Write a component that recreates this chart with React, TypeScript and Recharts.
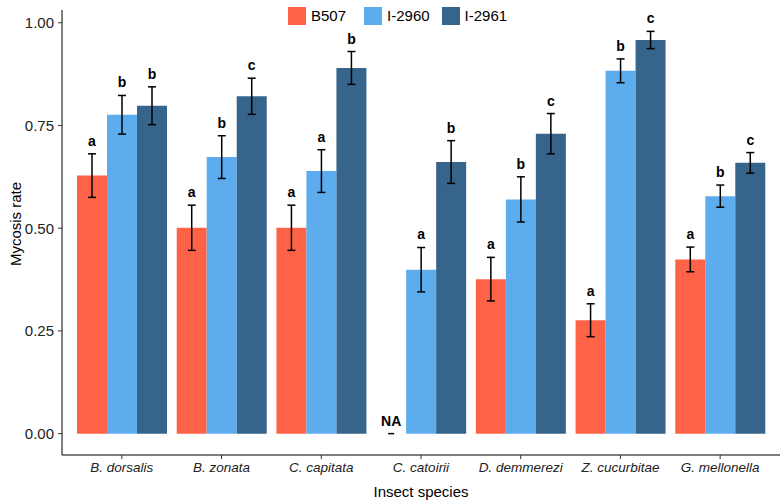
import React from 'react';
import { BarChart, Bar, XAxis, YAxis, ErrorBar, LabelList, Label } from 'recharts';

const species = ['B. dorsalis', 'B. zonata', 'C. capitata', 'C. catoirii', 'D. demmerezi', 'Z. cucurbitae', 'G. mellonella'];
const seriesNames = ['B507', 'I-2960', 'I-2961'];
const seriesColors = ['#FF6347', '#5CACEE', '#36648B'];

// null = NA (not tested)
const b507Mean: (number | null)[] = [0.628, 0.501, 0.501, null, 0.376, 0.276, 0.424];
const b507Se: (number | null)[] = [0.053, 0.055, 0.055, null, 0.053, 0.040, 0.030];
const b507Letters = ['a', 'a', 'a', 'NA', 'a', 'a', 'a'];

const i2960Mean = [0.776, 0.673, 0.639, 0.399, 0.570, 0.883, 0.578];
const i2960Se = [0.047, 0.052, 0.052, 0.054, 0.055, 0.029, 0.027];
const i2960Letters = ['b', 'b', 'a', 'a', 'b', 'b', 'b'];

const i2961Mean = [0.798, 0.821, 0.890, 0.661, 0.730, 0.958, 0.659];
const i2961Se = [0.046, 0.044, 0.040, 0.052, 0.049, 0.021, 0.025];
const i2961Letters = ['b', 'c', 'b', 'b', 'c', 'c', 'c'];

const yTicks = [0, 0.25, 0.5, 0.75, 1];

const data = species.map((s, i) => ({
  species: s,
  b507: b507Mean[i],
  b507Err: b507Se[i],
  i2960: i2960Mean[i],
  i2960Err: i2960Se[i],
  i2961: i2961Mean[i],
  i2961Err: i2961Se[i],
}));

const FONT = '"Liberation Sans", Arial, Helvetica, sans-serif';

const letterText = (cx: number, baseY: number, txt: string, key?: string) => (
  <text
    key={key}
    x={cx}
    y={baseY}
    textAnchor="middle"
    fontFamily={FONT}
    fontWeight="bold"
    fontSize={14}
    fill="#000"
  >
    {txt}
  </text>
);

const makeLetter =
  (means: (number | null)[], ses: (number | null)[], letters: string[], drawNaLeft: boolean) =>
  (props: any) => {
    const { x, y, width, height, value } = props;
    const idx = species.indexOf(value);
    if (idx < 0) return null;
    const m = means[idx];
    const se = ses[idx];
    if (m == null || se == null) return null;
    const ppu = m > 0 ? Math.abs(height) / m : 0;
    const errTop = y - se * ppu;
    const items = [letterText(x + width / 2, errTop - 8, letters[idx], 'l')];
    if (drawNaLeft && b507Mean[idx] == null) {
      // NA marker for the missing B507 bar sitting just left of this bar, at the zero line
      const zeroY = y + height;
      const cx = x - width / 2;
      items.push(
        <line key="d" x1={cx - 3} x2={cx + 3} y1={zeroY} y2={zeroY} stroke="#000" strokeWidth={1.5} />
      );
      items.push(letterText(cx, zeroY - 8, b507Letters[idx], 'n'));
    }
    return <g>{items}</g>;
  };

const XTick = (props: any) => {
  const { x, y, payload } = props;
  return (
    <text x={x} y={y} dy={13} textAnchor="middle" fontFamily={FONT} fontStyle="italic" fontSize={13.5} fill="#222">
      {payload.value}
    </text>
  );
};

export default function App() {
  return (
    <div style={{ position: 'absolute', left: 0, top: 0, width: 781, height: 503, background: '#fff' }}>
      <BarChart
        width={781}
        height={503}
        data={data}
        margin={{ top: 10, right: 1, bottom: 0, left: 0 }}
        barCategoryGap={5}
        barGap={0}
      >
        <XAxis
          dataKey="species"
          padding={{ left: 10, right: 10 }}
          height={48}
          tickSize={4}
          tickMargin={0}
          tick={<XTick />}
          axisLine={{ stroke: '#000', strokeWidth: 1 }}
          tickLine={{ stroke: '#333' }}
        >
          <Label
            content={() => (
              <text x={421} y={497} textAnchor="middle" fontFamily={FONT} fontSize={15} fill="#000">
                Insect species
              </text>
            )}
          />
        </XAxis>
        <YAxis
          domain={[-0.052, 1.031]}
          allowDataOverflow
          ticks={yTicks}
          tickFormatter={(v: number) => v.toFixed(2)}
          width={62}
          tickSize={4}
          tickMargin={4}
          tick={{ fontFamily: FONT, fontSize: 15, fill: '#222' }}
          axisLine={{ stroke: '#000', strokeWidth: 1 }}
          tickLine={{ stroke: '#333' }}
        >
          <Label
            content={() => (
              <text
                x={15}
                y={224}
                transform="rotate(-90 15 224)"
                textAnchor="middle"
                dominantBaseline="central"
                fontFamily={FONT}
                fontSize={15}
                fill="#000"
              >
                Mycosis rate
              </text>
            )}
          />
        </YAxis>
        <Bar dataKey="b507" fill={seriesColors[0]} isAnimationActive={false}>
          <ErrorBar dataKey="b507Err" direction="y" width={4} stroke="#000" strokeWidth={1.5} />
          <LabelList dataKey="species" content={makeLetter(b507Mean, b507Se, b507Letters, false)} />
        </Bar>
        <Bar dataKey="i2960" fill={seriesColors[1]} isAnimationActive={false}>
          <ErrorBar dataKey="i2960Err" direction="y" width={4} stroke="#000" strokeWidth={1.5} />
          <LabelList dataKey="species" content={makeLetter(i2960Mean, i2960Se, i2960Letters, true)} />
        </Bar>
        <Bar dataKey="i2961" fill={seriesColors[2]} isAnimationActive={false}>
          <ErrorBar dataKey="i2961Err" direction="y" width={4} stroke="#000" strokeWidth={1.5} />
          <LabelList dataKey="species" content={makeLetter(i2961Mean, i2961Se, i2961Letters, false)} />
        </Bar>
      </BarChart>
      <div
        style={{
          position: 'absolute',
          left: 288,
          top: 7,
          display: 'flex',
          alignItems: 'center',
          fontFamily: FONT,
          fontSize: 15,
          color: '#000',
        }}
      >
        {seriesNames.map((n, i) => (
          <div key={n} style={{ display: 'flex', alignItems: 'center', marginRight: i === 0 ? 18 : 12 }}>
            <div style={{ width: 18, height: 18, background: seriesColors[i], marginRight: 5 }} />
            <span style={{ lineHeight: '18px' }}>{n}</span>
          </div>
        ))}
      </div>
    </div>
  );
}
